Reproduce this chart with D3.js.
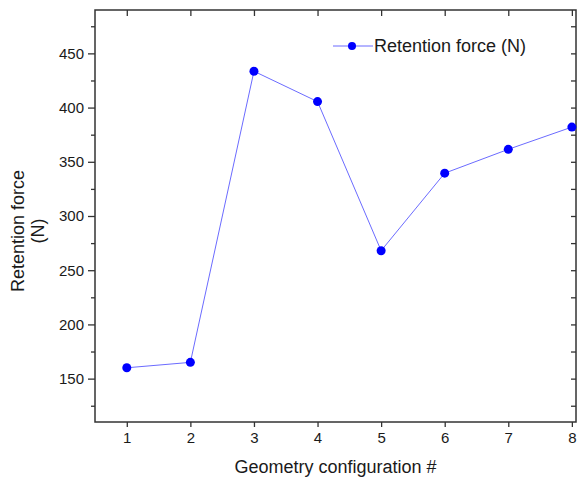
<!DOCTYPE html>
<html>
<head>
<meta charset="utf-8">
<script src="https://cdn.jsdelivr.net/npm/d3@7"></script>
<style>
  body { margin: 0; background: #fff; }
  text { font-family: "Liberation Sans", Arial, sans-serif; fill: #1a1a1a; }
</style>
</head>
<body>
<script>
// Geometry configuration numbers.
const configs = [1, 2, 3, 4, 5, 6, 7, 8];

// Retention force for each configuration (N).
const retention = [160, 165, 433.5, 405.5, 268, 339.5, 361.5, 382];

// Y axis ticks.
const yMajor = [150, 200, 250, 300, 350, 400, 450];
const yMinor = [125, 175, 225, 275, 325, 375, 425, 475];

const Width = 578;
const Height = 477;

// Plot box edges.
const Left = 95;
const Right = 576;
const Top = 10;
const Bottom = 422;

const x = d3.scaleLinear().domain([0.5, 8.065]).range([Left, Right]);
const y = d3.scaleLinear().domain([110, 490]).range([Bottom, Top]);

const svg = d3.select("body").append("svg")
    .attr("width", Width)
    .attr("height", Height);

// Left axis, major ticks with labels.
svg.append("g")
    .attr("transform", `translate(${Left},0)`)
    .call(d3.axisLeft(y).tickValues(yMajor).tickSize(7).tickPadding(4))
    .call(g => g.select(".domain").remove())
    .call(g => g.selectAll("text").style("font-size", "15px"));

// Left axis, minor ticks.
svg.append("g")
    .attr("transform", `translate(${Left},0)`)
    .call(d3.axisLeft(y).tickValues(yMinor).tickSize(4).tickFormat(""))
    .call(g => g.select(".domain").remove());

// Right axis, inward ticks.
svg.append("g")
    .attr("transform", `translate(${Right},0)`)
    .call(d3.axisLeft(y).tickValues(yMajor.concat(yMinor)).tickSize(5).tickFormat(""))
    .call(g => g.select(".domain").remove());

// Bottom axis.
svg.append("g")
    .attr("transform", `translate(0,${Bottom})`)
    .call(d3.axisBottom(x).tickValues(configs).tickSize(5).tickPadding(5))
    .call(g => g.select(".domain").remove())
    .call(g => g.selectAll("text").style("font-size", "15px"));

// Top axis, inward ticks.
svg.append("g")
    .attr("transform", `translate(0,${Top})`)
    .call(d3.axisBottom(x).tickValues(configs).tickSize(6).tickFormat(""))
    .call(g => g.select(".domain").remove());

svg.selectAll(".tick line").attr("stroke", "#333").attr("stroke-width", 1.3);

// Plot frame.
svg.append("rect")
    .attr("x", Left)
    .attr("y", Top)
    .attr("width", Right - Left)
    .attr("height", Bottom - Top)
    .attr("fill", "none")
    .attr("stroke", "#333")
    .attr("stroke-width", 1.5);

// Data line.
const line = d3.line()
    .x((d, i) => x(configs[i]))
    .y(d => y(d));

svg.append("path")
    .datum(retention)
    .attr("fill", "none")
    .attr("stroke", "#6b6bff")
    .attr("stroke-width", 1)
    .attr("d", line);

// Data points.
svg.selectAll("circle.pt")
    .data(retention)
    .join("circle")
    .attr("class", "pt")
    .attr("cx", (d, i) => x(configs[i]))
    .attr("cy", d => y(d))
    .attr("r", 4.5)
    .attr("fill", "#0000ff");

// Legend.
const legend = svg.append("g").attr("transform", "translate(333,46)");
legend.append("line")
    .attr("x1", 0).attr("x2", 40)
    .attr("stroke", "#6b6bff").attr("stroke-width", 1);
legend.append("circle")
    .attr("cx", 19).attr("r", 4)
    .attr("fill", "#0000ff");
legend.append("text")
    .attr("x", 41).attr("y", 6)
    .style("font-size", "18px")
    .text("Retention force (N)");

// Axis titles.
svg.append("text")
    .attr("x", (Left + Right) / 2)
    .attr("y", 473)
    .attr("text-anchor", "middle")
    .style("font-size", "18px")
    .text("Geometry configuration #");

const yTitle = svg.append("text")
    .attr("transform", "translate(24,231) rotate(-90)")
    .attr("text-anchor", "middle")
    .style("font-size", "18px");
yTitle.append("tspan").attr("x", 0).attr("y", 0).text("Retention force");
yTitle.append("tspan").attr("x", 0).attr("y", 20).text("(N)");
</script>
</body>
</html>
